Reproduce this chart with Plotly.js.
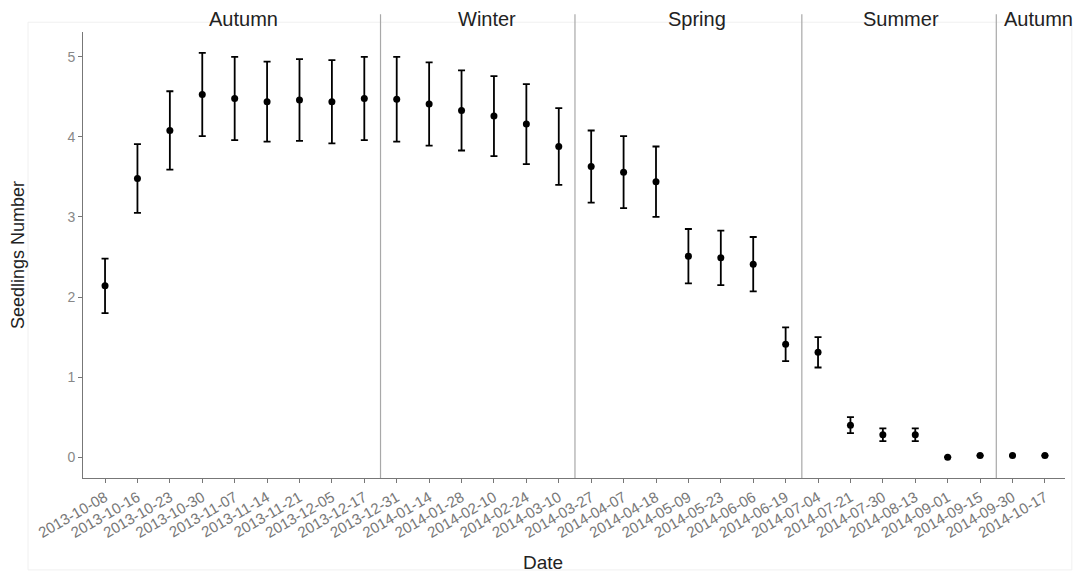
<!DOCTYPE html>
<html>
<head>
<meta charset="utf-8">
<script src="https://cdn.plot.ly/plotly-3.0.1.min.js"></script>
<style>html,body{margin:0;padding:0;background:#fff;}#chart{width:1079px;height:576px;}</style>
</head>
<body>
<div id="chart"></div>
<script>
const dates = ["2013-10-08","2013-10-16","2013-10-23","2013-10-30","2013-11-07","2013-11-14","2013-11-21","2013-12-05","2013-12-17","2013-12-31","2014-01-14","2014-01-28","2014-02-10","2014-02-24","2014-03-10","2014-03-27","2014-04-07","2014-04-18","2014-05-09","2014-05-23","2014-06-06","2014-06-19","2014-07-04","2014-07-21","2014-07-30","2014-08-13","2014-09-01","2014-09-15","2014-09-30","2014-10-17"];
const seedlings = [2.14,3.48,4.08,4.53,4.48,4.44,4.46,4.44,4.48,4.47,4.41,4.33,4.26,4.16,3.88,3.63,3.56,3.44,2.51,2.49,2.41,1.41,1.31,0.40,0.28,0.28,0.00,0.02,0.02,0.02];
const errors = [0.34,0.43,0.49,0.52,0.52,0.50,0.51,0.52,0.52,0.53,0.52,0.50,0.50,0.50,0.48,0.45,0.45,0.44,0.34,0.34,0.34,0.21,0.19,0.10,0.08,0.08,0.00,0.00,0.00,0.00];
const seasons = ["Autumn","Winter","Spring","Summer","Autumn"];
const seasonLabelPos = [4.26,11.8,18.27,24.56,28.8];
const seasonBreaks = [8.5,14.5,21.5,27.5];
const yTicks = [0,1,2,3,4,5];

const FONT = "Liberation Sans, Arial, sans-serif";

const trace = {
  x: dates.map((d,i)=>i),
  y: seedlings,
  type: "scatter",
  mode: "markers",
  marker: {color:"#000", size:7},
  error_y: {type:"data", array: errors, visible:true, color:"#000", thickness:1.8, width:3.5},
  hoverinfo: "x+y"
};

const shapes = seasonBreaks.map(b => ({
  type:"line", xref:"x", yref:"paper", x0:b, x1:b, y0:0, y1:1.04,
  line:{color:"#a8a8a8", width:1.2}
}));
shapes.push({type:"rect", xref:"paper", yref:"paper", x0:-0.056, x1:1.007, y0:-0.206, y1:1.022,
  line:{color:"#f0f0f0", width:1}, layer:"below"});

const annotations = seasons.map((s,i) => ({
  text:s, x:seasonLabelPos[i], xref:"x", y:1.03, yref:"paper", showarrow:false,
  xanchor:"center", yanchor:"middle",
  font:{family:FONT, size:20, color:"#222"}
}));
annotations.push({
  text:"Date", x:0.468, xref:"paper", y:-0.19, yref:"paper", showarrow:false,
  xanchor:"center", yanchor:"middle",
  font:{family:FONT, size:19, color:"#222"}
});

const layout = {
  width:1079, height:576,
  margin:{l:83, r:14, t:32, b:98},
  paper_bgcolor:"#fff", plot_bgcolor:"#fff",
  showlegend:false,
  font:{family:FONT},
  xaxis:{
    range:[-0.68,29.62],
    tickmode:"array", tickvals: dates.map((d,i)=>i), ticktext: dates,
    tickangle:-30,
    tickfont:{size:15, color:"#777"},
    ticks:"outside", ticklen:4, tickcolor:"#777",
    showline:true, linecolor:"#777", linewidth:1,
    showgrid:false, zeroline:false
  },
  yaxis:{
    range:[-0.26,5.31],
    tickmode:"array", tickvals:yTicks,
    tickfont:{size:14, color:"#888"},
    ticks:"outside", ticklen:4, tickcolor:"#777",
    showline:true, linecolor:"#777", linewidth:1,
    showgrid:false, zeroline:false,
    title:{text:"Seedlings Number", font:{size:18, color:"#222"}, standoff:38}
  },
  shapes: shapes,
  annotations: annotations
};

Plotly.newPlot("chart",[trace],layout,{displayModeBar:false, staticPlot:true});
</script>
</body>
</html>
